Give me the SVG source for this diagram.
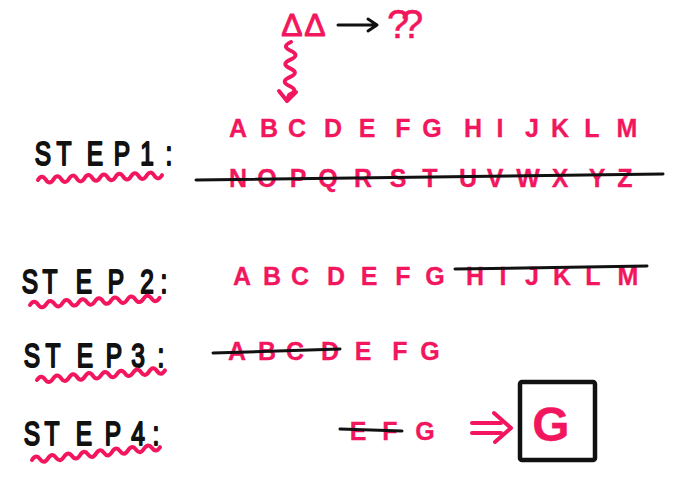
<svg xmlns="http://www.w3.org/2000/svg" width="700" height="491" viewBox="0 0 700 491">
<style>
.pk{fill:#F2165E;font-family:"Liberation Sans",sans-serif;font-weight:bold;font-size:25px;text-anchor:middle;stroke:#F2165E;stroke-width:0.3}
.lb{fill:#111;font-family:"Liberation Sans",sans-serif;font-size:34px;text-anchor:middle;stroke:#111;stroke-width:2;stroke-linejoin:round}
.strike{stroke:#111;stroke-width:3;stroke-linecap:round;fill:none}
.wave{stroke:#F2165E;stroke-width:4;stroke-linecap:round;stroke-linejoin:round;fill:none}
.bk{stroke:#111;stroke-width:3;stroke-linecap:round;stroke-linejoin:round;fill:none}
</style>
<rect width="700" height="491" fill="#fff"/>
<g id="top">
<text class="pk" x="292 315" y="36" style="font-size:32px;font-weight:normal;stroke-width:1">ΔΔ</text>
<path class="bk" d="M338 25 H377 M368 19 L377 25 L368 31"/>
<text class="pk" x="398 412" y="38" style="font-size:40px;font-weight:normal;stroke-width:0.5">??</text>
<path class="wave" d="M291 42 q-10 4.4 -0.3 8.8 t-0.3 8.8 t-0.3 8.8 t-0.3 8.8 t-0.3 8.8 t-0.3 8.8 L287 100 M279 91 L287 101 L296 92"/>
</g>
<g id="step1">
<text class="lb" transform="scale(0.72 1)" x="59.7 88.9 131.9 169.4 187.5 204.2 234.7" y="165">STEP 1:</text>
<path class="wave" d="M38 180 q3.9 -6.2 7.75 -0.3 t7.75 -0.3 t7.75 -0.3 t7.75 -0.3 t7.75 -0.3 t7.75 -0.3 t7.75 -0.3 t7.75 -0.3 t7.75 -0.3 t7.75 -0.3 t7.75 -0.3 t7.75 -0.3 t7.75 -0.3 t7.75 -0.3 t7.75 -0.3 t7.75 -0.3"/>
<text class="pk" x="238 269 297 333 367 403 432 473 500 532 560 592 627" y="137">ABCDEFGHIJKLM</text>
<text class="pk" x="238 267 298 328 363 398 430 468 495 528 560 597 625" y="187">NOPQRSTUVWXYZ</text>
<path class="strike" d="M196 180 L663 174"/>
</g>
<g id="step2">
<text class="lb" transform="scale(0.72 1)" x="41.7 69.4 116.7 161.1 180.6 204.2 227.8" y="293">STEP 2:</text>
<path class="wave" d="M30 305 q4.05 -6.2 8.1 -0.44 t8.1 -0.44 t8.1 -0.44 t8.1 -0.44 t8.1 -0.44 t8.1 -0.44 t8.1 -0.44 t8.1 -0.44 t8.1 -0.44 t8.1 -0.44 t8.1 -0.44 t8.1 -0.44 t8.1 -0.44 t8.1 -0.44 t8.1 -0.44 t8.1 -0.44"/>
<text class="pk" x="242 272 300 336 369 403 435 475 503 532 562 593 628" y="285">ABCDEFGHIJKLM</text>
<path class="strike" d="M455 269 L647 266"/>
</g>
<g id="step3">
<text class="lb" transform="scale(0.72 1)" x="44.4 73.6 118.1 158.3 175 191.7 223.6" y="367">STEP 3:</text>
<path class="wave" d="M37 380 q4 -6.3 8 -0.6 t8 -0.6 t8 -0.6 t8 -0.6 t8 -0.6 t8 -0.6 t8 -0.6 t8 -0.6 t8 -0.6 t8 -0.6 t8 -0.6 t8 -0.6 t8 -0.6 t8 -0.6 t8 -0.6 t8 -0.6"/>
<text class="pk" x="237 267 295 330 363 400 430" y="360">ABCDEFG</text>
<path class="strike" d="M213 353 L340 349"/>
</g>
<g id="step4">
<text class="lb" transform="scale(0.72 1)" x="44.4 72.2 116.7 156.9 175 191.7 216.7" y="445">STEP 4:</text>
<path class="wave" d="M32 460 q4 -6.4 8 -0.8 t8 -0.8 t8 -0.8 t8 -0.8 t8 -0.8 t8 -0.8 t8 -0.8 t8 -0.8 t8 -0.8 t8 -0.8 t8 -0.8 t8 -0.8 t8 -0.8 t8 -0.8 t8 -0.8 t8 -0.8"/>
<text class="pk" x="358 390 425" y="440">EFG</text>
<path class="strike" d="M340 429 L402 431"/>
<path class="wave" d="M472 423 H501 M472 433 H501 M494 413 L511 428 L495 442"/>
<rect x="520" y="382" width="75" height="78" rx="2" fill="none" stroke="#111" stroke-width="4.5"/>
<text class="pk" x="551" y="441" style="font-size:48px">G</text>
</g>
</svg>
